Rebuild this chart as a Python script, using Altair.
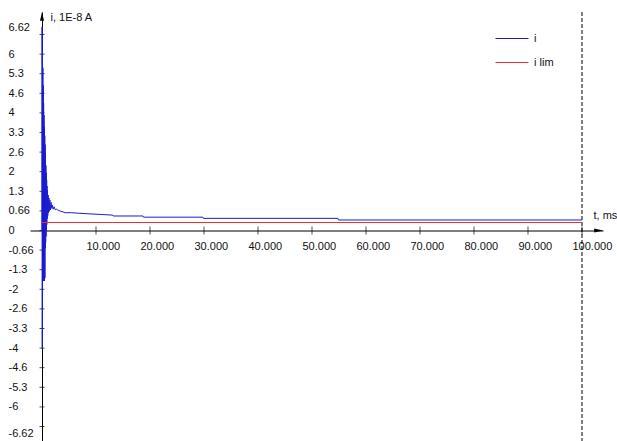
import altair as alt
import pandas as pd

# Current i (units of 1E-8 A) against time t (ms)
T_I = [0.00, 0.02, 0.05, 0.09, 0.12, 0.16, 0.19, 0.23, 0.26, 0.30,
       0.33, 0.37, 0.40, 0.44, 0.47, 0.51, 0.54, 0.58, 0.61, 0.65,
       0.68, 0.72, 0.75, 0.79, 0.82, 0.86, 0.89, 0.93, 0.97, 1.02,
       1.07, 1.13, 1.20, 1.28, 1.36, 1.46, 1.56, 1.68, 1.80, 1.93,
       2.06, 2.25, 2.45, 2.70, 3.00, 3.50, 4.30, 5.50, 7.00, 10.0,
       13.1, 13.2, 18.7, 18.8, 29.8, 29.9, 54.8, 54.9, 100.0]
I_VAL = [0.0, 6.87, -4.0, 6.2, -1.7, 5.5, -1.7, 4.9, -1.7, 4.3,
         -1.7, 3.9, -1.7, 3.5, -1.7, 3.2, -1.6, 2.9, -0.6, 2.6,
         -0.4, 2.2, -0.2, 1.95, 0.0, 1.7, 0.2, 1.5, 0.4, 1.35,
         0.5, 1.2, 0.6, 1.1, 0.65, 1.03, 0.7, 0.95, 0.75, 0.86,
         0.72, 0.80, 0.70, 0.72, 0.68, 0.65, 0.60, 0.60, 0.58, 0.55,
         0.52, 0.49, 0.49, 0.45, 0.45, 0.41, 0.41, 0.355, 0.355]
assert len(T_I) == len(I_VAL)

# Limiting current
T_LIM = [0.0, 100.0]
I_LIM = [0.27, 0.27]

SERIES = ["i", "i lim"]
COLORS = ["#1c1cd0", "#e83030"]

# Axis ticks and their labels
X_TICKS = [10, 20, 30, 40, 50, 60, 70, 80, 90, 100]
Y_STEP = 0.662
Y_TICK_LABELS = ["-6.62", "-6", "-5.3", "-4.6", "-4", "-3.3", "-2.6", "-2", "-1.3", "-0.66",
                 "0",
                 "0.66", "1.3", "2", "2.6", "3.3", "4", "4.6", "5.3", "6", "6.62"]
Y_TICKS = [round(k * Y_STEP, 3) for k in range(-10, 11)]

END_TIME = 100.0

# Scale extents
X_MIN, X_MAX = -2.222, 103.89
Y_MIN, Y_MAX = -7.11, 7.38

FONT = "Liberation Sans"
TXT = "#111111"

lines = pd.concat([
    pd.DataFrame({"series": SERIES[0], "t": T_I, "v": I_VAL}),
    pd.DataFrame({"series": SERIES[1], "t": T_LIM, "v": I_LIM}),
])

label_list = "[" + ",".join(f"'{s}'" for s in Y_TICK_LABELS) + "]"

x_axis = alt.Axis(
    orient="bottom", offset=-210.5, values=X_TICKS, format=".3f",
    ticks=False, tickSize=0, grid=False, domainColor="#000000", domainWidth=1,
    labelFont=FONT, labelFontSize=11, labelColor=TXT, labelAlign="left",
    labelBaseline="top", labelOffset=-10, labelPadding=10, labelFlush=False,
    labelOverlap=False,
    title="t, ms", titleFont=FONT, titleFontSize=11, titleFontWeight="normal",
    titleColor=TXT, titleAngle=0, titleAlign="left", titleBaseline="middle",
    titleX=563, titleY=-15,
)
y_axis = alt.Axis(
    orient="left", offset=-12, values=Y_TICKS,
    labelExpr=f"{label_list}[round(datum.value / {Y_STEP}) + 10]",
    ticks=False, tickSize=0, grid=False, domainColor="#000000", domainWidth=1,
    labelFont=FONT, labelFontSize=11, labelColor=TXT, labelAlign="left",
    labelBaseline="middle", labelPadding=34, labelFlush=False, labelOverlap=False,
    labelOffset=alt.ExprRef(expr="datum.value > 6.5 ? -7 : datum.value < -6.5 ? 7 : 0"),
    title="i, 1E-8 A", titleFont=FONT, titleFontSize=11, titleFontWeight="normal",
    titleColor=TXT, titleAngle=0, titleAlign="left", titleBaseline="middle",
    titleX=8, titleY=5,
)

xs = alt.Scale(domain=[X_MIN, X_MAX], nice=False, zero=False)
ys = alt.Scale(domain=[Y_MIN, Y_MAX], nice=False, zero=False)

X = alt.X("t:Q", scale=xs, axis=x_axis)
Y = alt.Y("v:Q", scale=ys, axis=y_axis)

curves = alt.Chart(lines).mark_line(strokeWidth=1, clip=True).encode(
    x=X, y=Y,
    color=alt.Color(
        "series:N",
        scale=alt.Scale(domain=SERIES, range=COLORS),
        legend=alt.Legend(
            orient="none", legendX=470.5, legendY=15, title=None,
            symbolType="M-1.5,0H1.5", symbolSize=484, symbolStrokeWidth=1,
            labelFont=FONT, labelFontSize=11, labelColor=TXT, labelOffset=10.5,
            rowPadding=7, padding=0,
        ),
    ),
)

# Tick marks crossing the axes
xticks = alt.Chart(pd.DataFrame({"t": X_TICKS, "v": [0.0] * len(X_TICKS)})).mark_tick(
    orient="vertical", size=8, thickness=1, color="#000000"
).encode(x=X, y=Y)
yticks = alt.Chart(pd.DataFrame({"t": [0.0] * len(Y_TICKS), "v": Y_TICKS})).mark_tick(
    orient="horizontal", size=5, thickness=1, color="#000000"
).encode(x=X, y=Y)

# Dashed marker at the end time
end_rule = alt.Chart(pd.DataFrame({"t": [END_TIME]})).mark_rule(
    color="#000000", strokeWidth=1, strokeDash=[4, 2]
).encode(x=X)

# Arrow heads at the axis ends
arrow_y = alt.Chart(pd.DataFrame({"t": [0.0], "v": [Y_MAX]})).mark_point(
    shape="M0,0L-0.5,2.2L0.5,2.2Z", size=64, filled=True, color="#000000", opacity=1
).encode(x=X, y=Y)
arrow_x = alt.Chart(pd.DataFrame({"t": [X_MAX], "v": [0.0]})).mark_point(
    shape="M0,0L-2.2,-0.5L-2.2,0.5Z", size=64, filled=True, color="#000000", opacity=1
).encode(x=X, y=Y)

chart = alt.layer(end_rule, xticks, yticks, curves, arrow_y, arrow_x).properties(
    width=573, height=429,
    autosize=alt.AutoSizeParams(type="none"),
    padding={"left": 30, "top": 12, "right": 14, "bottom": 0},
    background="#ffffff",
).configure_view(strokeWidth=0)

chart.save("out.html", embed_options={"renderer": "svg", "actions": False})
